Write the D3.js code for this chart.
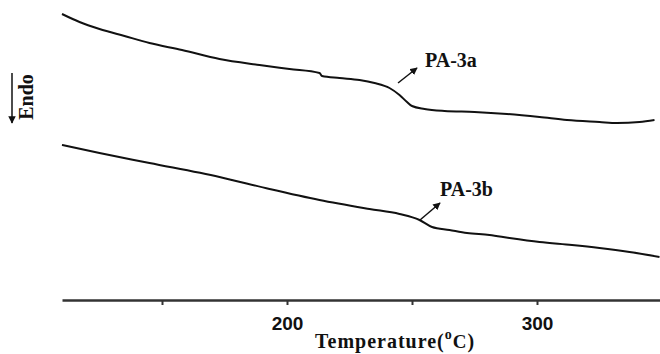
<!DOCTYPE html>
<html>
<head>
<meta charset="utf-8">
<script src="https://cdn.jsdelivr.net/npm/d3@7"></script>
<style>
  body { margin: 0; background: #fff; }
  svg { display: block; }
</style>
</head>
<body>
<div id="dsc"></div>
<script>
// DSC curves, heat flow in arbitrary units
const tempA = [110, 117, 125, 135, 145, 158, 173, 189, 201, 213, 214, 221, 229, 235, 241, 245, 248, 250, 255, 263, 275, 288, 301, 312, 325, 332, 341, 347];
const flowA = [286, 278, 271, 264, 257, 250, 241, 235, 231, 227, 224, 222, 220, 217, 212, 205, 198, 194, 191, 189, 188, 186, 183, 180, 178, 177, 178, 180];

const tempB = [110, 125, 145, 173, 193, 213, 233, 245, 253, 258, 265, 272, 281, 289, 301, 314, 325, 337, 349];
const flowB = [155, 147, 137, 123, 111, 100, 91, 86, 80, 73, 70, 67, 65, 62, 58, 55, 52, 48, 43];

const tickTemps = [150, 200, 250, 300];
const tickLabels = ["", "200", "", "300"];

const seriesNames = ["PA-3a", "PA-3b"];
// arrow: from (t0,v0) to (t1,v1), label at (tl,vl)
const arrowFrom = [[244.4, 217], [253.2, 80]];
const arrowTo = [[252, 232], [261.2, 97]];
const labelAt = [[255.2, 233], [261.2, 104]];

const W = 660, H = 354;
const axisY = 300;

const svg = d3.select("#dsc")
  .append("svg")
  .attr("width", W)
  .attr("height", H);

const x = d3.scaleLinear()
  .domain([110, 349.2])
  .range([62, 660]);

const y = d3.scaleLinear()
  .domain([0, 300])
  .range([axisY, 0]);

svg.append("defs").append("marker")
  .attr("id", "head")
  .attr("viewBox", "0 0 10 10")
  .attr("refX", 9)
  .attr("refY", 5)
  .attr("markerWidth", 5)
  .attr("markerHeight", 5)
  .attr("orient", "auto")
  .append("path")
  .attr("d", "M0,0 L10,5 L0,10 Z")
  .attr("fill", "#111");

// x axis
const xAxis = svg.append("g")
  .attr("transform", "translate(0," + axisY + ")")
  .call(d3.axisBottom(x)
    .tickValues(tickTemps)
    .tickFormat(function (d, i) { return tickLabels[i]; })
    .tickSize(5)
    .tickSizeOuter(0)
    .tickPadding(12));

xAxis.select(".domain").attr("stroke", "#333").attr("stroke-width", 2.5);
xAxis.selectAll(".tick line").attr("stroke", "#333").attr("stroke-width", 2);
xAxis.selectAll(".tick text")
  .attr("fill", "#111")
  .style("font-family", "'Liberation Sans', Arial, sans-serif")
  .style("font-weight", "bold")
  .style("font-size", "19px");

// axis title
const title = svg.append("text")
  .attr("x", 315)
  .attr("y", 348)
  .style("font-family", "'Liberation Serif', 'Times New Roman', serif")
  .style("font-weight", "bold")
  .style("font-size", "20px")
  .style("letter-spacing", "1px")
  .attr("fill", "#111");
title.append("tspan").text("Temperature(");
title.append("tspan").attr("dy", -9).style("font-size", "14px").text("o");
title.append("tspan").attr("dy", 9).style("font-size", "19px").text("C");
title.append("tspan").text(")");

// Endo indicator
svg.append("line")
  .attr("x1", 12).attr("y1", 73)
  .attr("x2", 12).attr("y2", 123)
  .attr("stroke", "#111")
  .attr("stroke-width", 1.5)
  .attr("marker-end", "url(#head)");

svg.append("text")
  .attr("transform", "translate(33,97) rotate(-90)")
  .attr("text-anchor", "middle")
  .style("font-family", "'Liberation Serif', 'Times New Roman', serif")
  .style("font-weight", "bold")
  .style("font-size", "20px")
  .attr("fill", "#111")
  .text("Endo");

// curves
const line = d3.line()
  .x(function (d) { return x(d[0]); })
  .y(function (d) { return y(d[1]); })
  .curve(d3.curveMonotoneX);

const curves = [d3.zip(tempA, flowA), d3.zip(tempB, flowB)];

svg.append("g")
  .selectAll("path")
  .data(curves).enter()
  .append("path")
  .attr("d", line)
  .attr("fill", "none")
  .attr("stroke", "#111")
  .attr("stroke-width", 2);

// annotations
seriesNames.forEach(function (name, i) {
  svg.append("line")
    .attr("x1", x(arrowFrom[i][0])).attr("y1", y(arrowFrom[i][1]))
    .attr("x2", x(arrowTo[i][0])).attr("y2", y(arrowTo[i][1]))
    .attr("stroke", "#111")
    .attr("stroke-width", 1.5)
    .attr("marker-end", "url(#head)");

  svg.append("text")
    .attr("x", x(labelAt[i][0]))
    .attr("y", y(labelAt[i][1]))
    .style("font-family", "'Liberation Serif', 'Times New Roman', serif")
    .style("font-weight", "bold")
    .style("font-size", "20px")
    .attr("fill", "#111")
    .text(name);
});
</script>
</body>
</html>
